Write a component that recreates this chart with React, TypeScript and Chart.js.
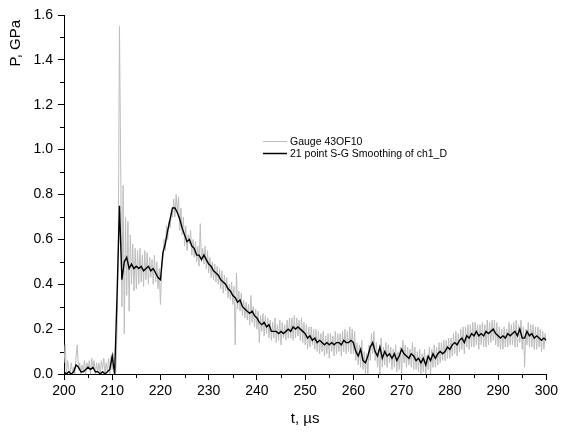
import React, { useEffect, useRef } from "react";
import { Chart, registerables } from "chart.js";

Chart.register(...registerables);

// x grids (µs)
const T_START = 200;
const RAW_STEP = 0.25;
const SMOOTH_STEP = 0.5;

// Raw gauge record, Gauge 43OF10 (GPa), every 0.25 µs from 200 µs
const rawValues: number[] = [
  0.05, 0.13, 0.0, 0.06, 0.02, 0.0, 0.05, 0.01, 0.03, 0.0, 0.08, 0.13, 0.02, 0.05, 0.0, 0.04,
  0.01, 0.06, 0.0, 0.05, 0.02, 0.06, 0.0, 0.07, 0.03, 0.06, 0.0, 0.05, 0.01, 0.05, 0.0, 0.06,
  0.02, 0.07, 0.0, 0.05, 0.01, 0.07, 0.0, 0.08, 0.02, 0.09, 0.0, 0.01, 0.2, 0.55, 1.55, 0.93,
  0.3, 0.84, 0.18, 0.7, 0.35, 0.68, 0.28, 0.62, 0.4, 0.58, 0.37, 0.56, 0.38, 0.55, 0.4, 0.56,
  0.41, 0.53, 0.39, 0.55, 0.42, 0.54, 0.4, 0.52, 0.43, 0.51, 0.4, 0.53, 0.41, 0.5, 0.38, 0.47,
  0.31, 0.47, 0.52, 0.6, 0.55, 0.66, 0.6, 0.68, 0.65, 0.73, 0.7, 0.78, 0.7, 0.8, 0.72, 0.79,
  0.64, 0.74, 0.62, 0.7, 0.57, 0.66, 0.55, 0.62, 0.58, 0.64, 0.53, 0.6, 0.52, 0.59, 0.5, 0.57,
  0.48, 0.67, 0.5, 0.56, 0.49, 0.57, 0.47, 0.55, 0.45, 0.52, 0.43, 0.5, 0.42, 0.49, 0.41, 0.48,
  0.4, 0.47, 0.38, 0.46, 0.36, 0.44, 0.37, 0.43, 0.34, 0.4, 0.33, 0.41, 0.31, 0.39, 0.13, 0.45,
  0.29, 0.37, 0.28, 0.36, 0.26, 0.33, 0.25, 0.32, 0.24, 0.31, 0.22, 0.35, 0.23, 0.3, 0.21, 0.29,
  0.2, 0.28, 0.14, 0.26, 0.19, 0.27, 0.17, 0.26, 0.18, 0.25, 0.16, 0.24, 0.15, 0.23, 0.16, 0.25,
  0.14, 0.22, 0.15, 0.24, 0.13, 0.23, 0.16, 0.22, 0.15, 0.24, 0.16, 0.25, 0.16, 0.25, 0.15, 0.26,
  0.16, 0.25, 0.17, 0.24, 0.15, 0.25, 0.14, 0.23, 0.13, 0.22, 0.11, 0.21, 0.12, 0.21, 0.13, 0.2,
  0.11, 0.2, 0.1, 0.19, 0.09, 0.18, 0.1, 0.19, 0.08, 0.17, 0.09, 0.18, 0.07, 0.18, 0.1, 0.17,
  0.08, 0.19, 0.09, 0.18, 0.1, 0.18, 0.08, 0.19, 0.1, 0.2, 0.09, 0.19, 0.1, 0.21, 0.09, 0.2,
  0.09, 0.19, 0.06, 0.14, 0.04, 0.13, 0.03, 0.15, 0.02, 0.1, 0.0, 0.09, 0.0, 0.13, 0.06, 0.18,
  0.09, 0.19, 0.06, 0.14, 0.03, 0.11, 0.0, 0.16, 0.03, 0.12, 0.04, 0.14, 0.03, 0.13, 0.05, 0.12,
  0.02, 0.11, 0.03, 0.13, 0.01, 0.1, 0.02, 0.12, 0.0, 0.15, 0.05, 0.13, 0.03, 0.12, 0.04, 0.11,
  0.03, 0.14, 0.02, 0.12, 0.02, 0.1, 0.01, 0.11, 0.0, 0.09, 0.01, 0.11, 0.0, 0.08, 0.02, 0.12,
  0.0, 0.11, 0.03, 0.13, 0.03, 0.12, 0.04, 0.14, 0.05, 0.14, 0.06, 0.15, 0.06, 0.15, 0.07, 0.16,
  0.07, 0.16, 0.08, 0.18, 0.09, 0.19, 0.08, 0.18, 0.1, 0.2, 0.11, 0.21, 0.09, 0.21, 0.12, 0.22,
  0.11, 0.22, 0.12, 0.23, 0.12, 0.23, 0.13, 0.22, 0.11, 0.22, 0.13, 0.23, 0.12, 0.22, 0.12, 0.24,
  0.13, 0.23, 0.14, 0.24, 0.15, 0.24, 0.13, 0.23, 0.12, 0.21, 0.11, 0.2, 0.11, 0.21, 0.12, 0.2,
  0.12, 0.23, 0.13, 0.22, 0.13, 0.23, 0.12, 0.24, 0.12, 0.22, 0.14, 0.24, 0.11, 0.21, 0.03, 0.2,
  0.13, 0.23, 0.12, 0.22, 0.12, 0.22, 0.11, 0.21, 0.11, 0.21, 0.12, 0.2, 0.1, 0.19, 0.11, 0.18,
  0.14,
];

// 21 point S-G smoothing (GPa), every 0.5 µs from 200 µs
const smoothValues: number[] = [
  0.01, 0.0, 0.01, 0.0, 0.01, 0.04, 0.03, 0.01, 0.01, 0.02, 0.03, 0.02, 0.03, 0.01, 0.01, 0.0,
  0.01, 0.0, 0.01, 0.02, 0.08, 0.0, 0.35, 0.75, 0.42, 0.5, 0.52, 0.47, 0.49, 0.47, 0.48, 0.47,
  0.48, 0.46, 0.47, 0.48, 0.46, 0.47, 0.45, 0.43, 0.42, 0.54, 0.58, 0.64, 0.69, 0.74, 0.74, 0.72,
  0.69, 0.65, 0.62, 0.59, 0.6, 0.57, 0.56, 0.53, 0.53, 0.51, 0.53, 0.51, 0.49, 0.48, 0.46, 0.45,
  0.44, 0.42, 0.41, 0.4, 0.38, 0.37, 0.35, 0.34, 0.32, 0.33, 0.3, 0.29, 0.28, 0.27, 0.28, 0.26,
  0.25, 0.23, 0.22, 0.23, 0.21, 0.22, 0.19, 0.19, 0.19, 0.18, 0.19, 0.18, 0.19, 0.2, 0.19, 0.21,
  0.2, 0.21, 0.2, 0.19, 0.18, 0.16, 0.17, 0.15, 0.16, 0.14, 0.15, 0.14, 0.13, 0.14, 0.13, 0.14,
  0.13, 0.14, 0.14, 0.13, 0.15, 0.14, 0.14, 0.15, 0.14, 0.1, 0.08, 0.11, 0.06, 0.05, 0.08, 0.12,
  0.14, 0.1, 0.08, 0.12, 0.07, 0.1, 0.08, 0.09, 0.07, 0.09, 0.06, 0.08, 0.11, 0.09, 0.08, 0.07,
  0.09, 0.08, 0.06, 0.07, 0.05, 0.07, 0.04, 0.08, 0.06, 0.09, 0.07, 0.09, 0.1, 0.09, 0.1, 0.12,
  0.11, 0.13, 0.14, 0.13, 0.15, 0.16, 0.14, 0.17, 0.16, 0.18, 0.17, 0.19, 0.17, 0.18, 0.17, 0.19,
  0.18, 0.19, 0.2, 0.18, 0.17, 0.16, 0.17, 0.16, 0.18, 0.17, 0.18, 0.19, 0.17, 0.2, 0.16, 0.16,
  0.19, 0.17, 0.18, 0.16, 0.17, 0.16, 0.15, 0.16, 0.15,
];

const X_MIN = 200;
const X_MAX = 300;
const X_STEP = 10;
const Y_MIN = 0;
const Y_MAX = 1.6;
const Y_STEP = 0.2;

const legendLabels = ["Gauge 43OF10", "21 point S-G Smoothing of ch1_D"];
const xTitle = "t, \u00b5s";
const yTitle = "P, GPa";

const FONT = "'Liberation Sans', Arial, sans-serif";
const GRAY = "#bdbdbd";

const extras = {
  id: "extras",
  afterDraw(chart: any) {
    const ctx = chart.ctx;
    const xs = chart.scales.x;
    const ys = chart.scales.y;
    const area = chart.chartArea;
    ctx.save();
    // minor ticks
    ctx.strokeStyle = "#000";
    ctx.lineWidth = 1;
    ctx.beginPath();
    for (let v = X_MIN + X_STEP / 2; v < X_MAX; v += X_STEP) {
      const px = Math.round(xs.getPixelForValue(v)) + 0.5;
      ctx.moveTo(px, area.bottom);
      ctx.lineTo(px, area.bottom + 4);
    }
    for (let v = Y_MIN + Y_STEP / 2; v < Y_MAX; v += Y_STEP) {
      const py = Math.round(ys.getPixelForValue(v)) + 0.5;
      ctx.moveTo(area.left, py);
      ctx.lineTo(area.left - 4, py);
    }
    ctx.stroke();

    // y-axis title, placed at the top of the axis
    ctx.save();
    ctx.translate(16, area.top + 5);
    ctx.rotate(-Math.PI / 2);
    ctx.font = `15px ${FONT}`;
    ctx.fillStyle = "#000";
    ctx.textAlign = "right";
    ctx.textBaseline = "middle";
    ctx.fillText(yTitle, 0, 0);
    ctx.restore();

    // legend inside plot
    const lx0 = 263;
    const lx1 = 287;
    const rows = [141, 153];
    const colors = [GRAY, "#000"];
    const widths = [1, 1.5];
    ctx.font = `10.5px ${FONT}`;
    ctx.textBaseline = "middle";
    ctx.textAlign = "left";
    rows.forEach((y, i) => {
      ctx.strokeStyle = colors[i];
      ctx.lineWidth = widths[i];
      ctx.beginPath();
      ctx.moveTo(lx0, y + 0.5);
      ctx.lineTo(lx1, y + 0.5);
      ctx.stroke();
      ctx.fillStyle = "#000";
      ctx.fillText(legendLabels[i], lx1 + 3, y + 1);
    });
    ctx.restore();
  },
};

export default function App() {
  const ref = useRef<HTMLCanvasElement | null>(null);
  useEffect(() => {
    if (!ref.current) return;
    const rawPts = rawValues.map((v, i) => ({ x: T_START + i * RAW_STEP, y: v }));
    const smPts = smoothValues.map((v, i) => ({ x: T_START + i * SMOOTH_STEP, y: v }));
    const chart = new Chart(ref.current, {
      type: "line",
      data: {
        datasets: [
          {
            label: legendLabels[1],
            data: smPts,
            borderColor: "#000",
            borderWidth: 1.4,
            pointRadius: 0,
            tension: 0,
            order: 0,
          },
          {
            label: legendLabels[0],
            data: rawPts,
            borderColor: GRAY,
            borderWidth: 1,
            pointRadius: 0,
            tension: 0,
            order: 1,
          },
        ],
      },
      options: {
        animation: false,
        responsive: false,
        maintainAspectRatio: false,
        layout: { padding: { left: 0, right: 14, top: 15, bottom: 4 } },
        plugins: { legend: { display: false }, tooltip: { enabled: false } },
        scales: {
          x: {
            type: "linear",
            min: X_MIN,
            max: X_MAX,
            afterFit: (s: any) => {
              s.height = 54;
            },
            ticks: {
              stepSize: X_STEP,
              color: "#000",
              font: { family: FONT, size: 14 },
              padding: 3,
              maxRotation: 0,
            },
            grid: { drawOnChartArea: false, drawTicks: true, tickLength: 6, color: "#000" },
            border: { display: true, color: "#000", width: 1 },
            title: {
              display: true,
              text: xTitle,
              color: "#000",
              font: { family: FONT, size: 15 },
              padding: { top: 0, bottom: 0 },
            },
          },
          y: {
            type: "linear",
            min: Y_MIN,
            max: Y_MAX,
            afterFit: (s: any) => {
              s.width = 64;
            },
            ticks: {
              stepSize: Y_STEP,
              color: "#000",
              font: { family: FONT, size: 14 },
              padding: 5,
              callback: (v: any) => Number(v).toFixed(1),
            },
            grid: { drawOnChartArea: false, drawTicks: true, tickLength: 6, color: "#000" },
            border: { display: true, color: "#000", width: 1 },
          },
        },
      },
      plugins: [extras],
    });
    return () => chart.destroy();
  }, []);
  return (
    <div style={{ position: "fixed", left: 0, top: 0, width: 561, height: 432, background: "#fff" }}>
      <canvas ref={ref} width={561} height={432} style={{ width: 561, height: 432 }} />
    </div>
  );
}
